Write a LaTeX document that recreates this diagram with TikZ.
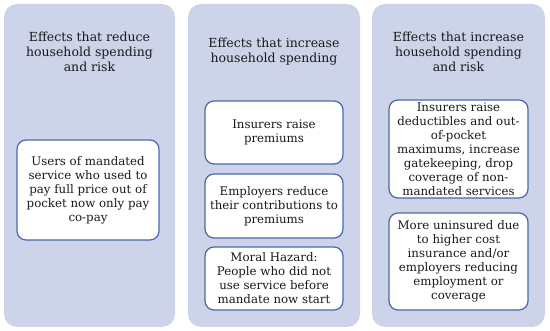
\documentclass[tikz,border=0pt]{standalone}
\usepackage{fontspec}
\setmainfont{DejaVu Serif}
\definecolor{panelfill}{HTML}{CDD3E8}
\definecolor{boxline}{HTML}{4868AE}
\definecolor{txt}{HTML}{1A1A1A}
\begin{document}
\begin{tikzpicture}[x=1pt,y=-1pt,
  panel/.style={draw=none,fill=panelfill,rounded corners=13pt,inner sep=0pt},
  ttl/.style={align=center,text=txt,font=\fontsize{12.5pt}{15pt}\selectfont,inner sep=0pt},
  effbox/.style={draw=boxline,line width=1.2pt,fill=white,rounded corners=9pt,inner sep=0pt,align=center,text=txt,font=\fontsize{11.8pt}{14pt}\selectfont}]
\useasboundingbox (0,0) rectangle (550,331);
\fill[white] (0,0) rectangle (550,331);
% panels
\node[panel,minimum width=171pt,minimum height=323pt] (p1) at (89.5,165.5) {};
\node[panel,minimum width=172pt,minimum height=323pt] (p2) at (274,165.5) {};
\node[panel,minimum width=173pt,minimum height=323pt] (p3) at (458.5,165.5) {};
% titles
\node[ttl] (t1) at (89.5,52) {Effects that reduce\\household spending\\and risk};
\node[ttl] (t2) at (274,51.5) {Effects that increase\\household spending};
\node[ttl] (t3) at (458.5,52) {Effects that increase\\household spending\\and risk};
% boxes
\node[effbox,minimum width=142pt,minimum height=100pt] (b1) at (88,190) {Users of mandated\\service who used to\\pay full price out of\\pocket now only pay\\co-pay};
\node[effbox,minimum width=138pt,minimum height=63pt] (b2) at (274,132.5) {Insurers raise\\premiums};
\node[effbox,minimum width=138pt,minimum height=64pt] (b3) at (274,206) {Employers reduce\\their contributions to\\premiums};
\node[effbox,minimum width=138pt,minimum height=63pt] (b4) at (274,278.5) {Moral Hazard:\\People who did not\\use service before\\mandate now start};
\node[effbox,minimum width=139pt,minimum height=98pt] (b5) at (458.5,149) {Insurers raise\\deductibles and out-\\of-pocket\\maximums, increase\\gatekeeping, drop\\coverage of non-\\mandated services};
\node[effbox,minimum width=139pt,minimum height=97pt] (b6) at (458.5,261.5) {More uninsured due\\to higher cost\\insurance and/or\\employers reducing\\employment or\\coverage};
\end{tikzpicture}
\end{document}
